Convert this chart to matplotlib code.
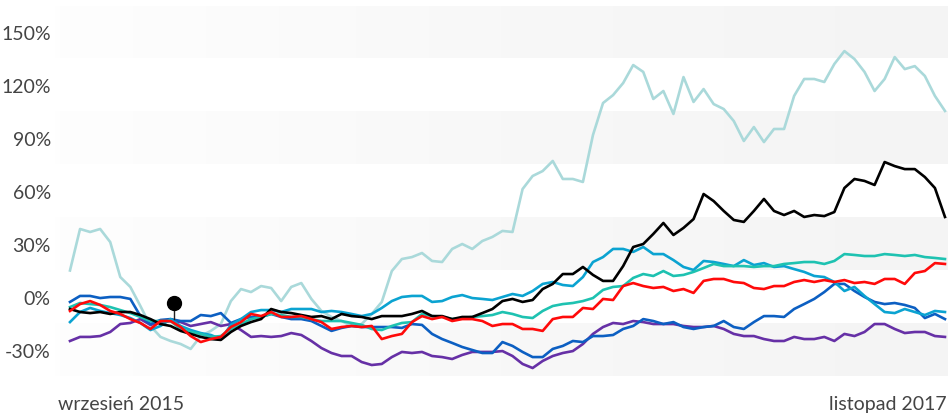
import numpy as np
import matplotlib
matplotlib.use('Agg')
import matplotlib.pyplot as plt
from matplotlib.colors import LinearSegmentedColormap

plt.rcParams['font.family'] = ['Lato', 'DejaVu Sans']

# Values in %, one value every ~10 px (Sep 2015 - Nov 2017)
light_teal = [15, 38.5, 36.8, 38.5, 31.1, 11.3, 5.7, -5.1, -16.4, -22.6,
              -24.9, -26.6, -29.4, -22.1, -19.2, -15.3, -2.3, 4.5, 2.8, 6.2,
              5.1, -2.3, 5.7, 7.9, -1.1, -7.9, -11.3, -13.6, -16.4, -15.3,
              -9.6, -2.8, 14.7, 21.5, 22.6, 24.9, 20.4, 19.8, 27.2, 30.0,
              27.2, 31.7, 34.0, 37.4, 36.8, 61.1, 68.5, 71.3, 77.0, 66.8,
              66.8, 65.1, 91.7, 109.8, 114.3, 121.1, 131.3, 127.4, 112.1, 116.6,
              103.6, 124.5, 110.4, 117.7, 109.2, 106.4, 99.6, 88.3, 96.2, 87.7,
              95.1, 95.1, 113.8, 123.4, 123.4, 121.7, 131.9, 139.2, 134.7, 127.4,
              116.6, 123.4, 135.8, 129.0, 130.7, 125.1, 113.8, 105.3]

black = [-6.8, -8.5, -9.1, -8.5, -9.6, -8.5, -8.5, -10.2, -12.5, -15.3,
         -16.4, -19.2, -20.9, -22.6, -23.8, -24.3, -19.8, -16.4, -14.2, -12.5,
         -6.8, -8.5, -9.1, -10.2, -11.3, -10.8, -12.5, -9.6, -10.8, -11.3,
         -12.5, -10.8, -10.8, -10.8, -9.6, -7.9, -10.8, -10.8, -12.5, -11.3,
         -11.3, -9.1, -6.8, -2.3, -1.1, -2.8, -1.7, 4.5, 7.4, 13.0,
         13.0, 17.0, 12.5, 9.1, 9.1, 17.5, 28.3, 30.0, 35.7, 41.9,
         35.1, 39.1, 44.1, 58.3, 54.3, 48.7, 43.6, 42.5, 48.7, 55.5,
         48.7, 46.4, 48.7, 45.3, 46.4, 45.8, 48.1, 61.7, 66.8, 65.7,
         63.4, 76.4, 74.1, 72.4, 72.4, 67.9, 61.7, 45.3]

teal = [-5.7, -3.4, -4.0, -4.5, -5.7, -7.4, -9.1, -11.3, -13.6, -13.6,
        -13.6, -18.1, -19.8, -20.9, -22.6, -22.1, -18.1, -15.3, -12.5, -11.3,
        -9.6, -10.2, -11.3, -11.3, -12.5, -13.6, -13.6, -13.6, -14.7, -15.8,
        -18.1, -18.7, -16.4, -14.7, -14.2, -9.6, -10.8, -11.3, -12.5, -11.9,
        -11.3, -10.8, -10.2, -8.5, -9.6, -11.3, -11.9, -7.9, -5.1, -4.0,
        -3.4, -2.3, -0.6, 4.0, 5.7, 6.2, 10.8, 13.0, 11.9, 14.7,
        11.9, 12.5, 14.2, 16.4, 18.7, 17.5, 17.5, 17.5, 17.0, 17.5,
        17.5, 18.7, 19.2, 19.8, 19.8, 18.7, 20.4, 24.3, 23.8, 23.2,
        23.2, 24.3, 23.8, 23.2, 23.8, 22.6, 22.1, 21.5]

cyan = [-14.2, -8.5, -6.2, -7.9, -9.1, -10.2, -11.9, -14.7, -18.7, -16.4,
        -12.5, -16.4, -18.7, -20.4, -21.5, -23.8, -15.8, -12.5, -8.5, -7.4,
        -7.4, -8.5, -6.8, -6.8, -6.8, -8.5, -7.9, -8.5, -9.6, -10.8,
        -9.6, -6.2, -2.3, 0, 0.6, 0.6, -2.8, -2.3, 0, 1.1,
        -0.6, -1.1, -1.7, 0, 1.7, 0.6, 3.4, 7.4, 8.5, 6.8,
        6.2, 11.3, 19.8, 22.6, 27.2, 27.2, 25.5, 28.3, 24.3, 24.3,
        20.9, 17.0, 15.3, 20.4, 19.8, 18.7, 17.5, 20.9, 18.1, 19.2,
        17.0, 17.5, 15.8, 14.2, 11.9, 11.3, 8.5, 3.4, 5.7, 0.6,
        -4.0, -8.5, -9.1, -6.8, -8.5, -10.2, -7.9, -8.5]

red = [-7.9, -4.0, -2.3, -4.5, -7.9, -9.6, -12.5, -14.7, -18.1, -13.6,
       -13.6, -17.0, -22.1, -25.5, -23.8, -22.6, -17.0, -14.2, -9.6, -10.8,
       -8.5, -11.3, -11.3, -10.8, -12.5, -14.2, -18.1, -17.0, -16.4, -17.0,
       -16.4, -23.8, -22.1, -20.9, -14.2, -10.8, -12.5, -11.3, -13.6, -12.5,
       -12.5, -13.6, -16.4, -15.3, -15.3, -18.1, -18.1, -19.2, -12.5, -11.3,
       -11.3, -6.2, -6.8, -1.1, -1.7, 6.2, 7.9, 6.2, 5.1, 5.7,
       3.4, 4.5, 2.3, 9.1, 10.2, 10.2, 8.5, 7.9, 5.1, 4.5,
       6.2, 6.2, 8.5, 9.6, 8.5, 9.6, 8.5, 9.6, 7.9, 8.5,
       7.4, 10.2, 10.2, 7.4, 13.6, 14.7, 19.2, 18.7]

dark_blue = [-2.8, 0.6, 0.6, -0.6, 0, 0, -1.1, -10.8, -15.3, -13.0,
             -12.5, -13.6, -13.6, -10.2, -10.8, -9.1, -14.7, -12.5, -11.3, -11.3,
             -9.6, -11.3, -12.5, -12.5, -13.6, -16.4, -19.2, -17.5, -16.4, -17.0,
             -17.0, -17.0, -17.0, -17.5, -15.3, -15.8, -20.9, -23.8, -26.0, -28.3,
             -30.0, -31.7, -31.7, -25.5, -27.7, -31.1, -34.0, -34.0, -29.4, -27.7,
             -24.9, -25.5, -22.1, -22.1, -21.5, -18.1, -16.4, -12.5, -13.6, -15.3,
             -14.2, -17.0, -18.1, -17.0, -16.4, -13.6, -17.0, -18.1, -14.2, -10.8,
             -10.8, -11.3, -6.8, -4.0, -1.1, 2.8, 7.4, 7.4, 3.4, 0,
             -2.8, -4.0, -3.4, -4.5, -6.2, -11.9, -9.6, -12.5]

purple = [-24.9, -22.6, -22.6, -22.1, -19.8, -15.3, -14.7, -12.5, -15.8, -14.2,
          -13.6, -14.2, -16.4, -15.3, -14.2, -16.4, -15.3, -18.7, -22.6, -22.1,
          -22.6, -22.1, -20.4, -21.5, -24.9, -28.9, -31.7, -33.4, -33.4, -36.8,
          -38.5, -37.9, -34.0, -31.1, -31.7, -31.1, -33.4, -34.0, -35.1, -32.8,
          -31.1, -31.1, -31.1, -30.6, -33.4, -37.9, -40.2, -36.2, -33.4, -31.7,
          -30.6, -26.6, -20.9, -17.0, -14.7, -15.3, -13.6, -14.2, -15.3, -15.3,
          -15.3, -16.4, -17.0, -17.0, -16.4, -18.1, -20.9, -22.1, -22.1, -23.8,
          -24.9, -24.9, -22.6, -23.8, -23.8, -22.6, -24.9, -20.9, -22.1, -19.8,
          -15.3, -15.3, -18.1, -20.4, -19.8, -19.8, -22.1, -22.6]

series = [
    (light_teal, '#aad9da'),
    (purple, '#6630a6'),
    (dark_blue, '#0c5fc2'),
    (cyan, '#0ba3d1'),
    (teal, '#1ec2b1'),
    (black, '#000000'),
    (red, '#ff0a0a'),
]

y_ticks = [-30, 0, 30, 60, 90, 120, 150]
y_labels = ['-30%', '0%', '30%', '60%', '90%', '120%', '150%']
shaded = [-30, 30, 90, 150]
start_label = 'wrzesień 2015'
end_label = 'listopad 2017'

# marker on one day, dot value and the value of the lines below it
marker_idx = 10.3
marker_top = -3.4
marker_bottom = -12.5

fig = plt.figure(figsize=(9.5, 4.14), dpi=100)
ax = fig.add_axes([55 / 950, 36.5 / 414, 893 / 950, 371 / 414])

n = len(black)
x = np.arange(n)
x0, x1 = -1.49, n - 1 + 0.3
ax.set_xlim(x0, x1)
ax.set_ylim(-45, 165)

# faint alternating bands, slightly darker to the right
band_cmap = LinearSegmentedColormap.from_list('band', ['#fefefe', '#f8f8f8', '#f4f4f4'])
grad = np.linspace(0, 1, 256).reshape(1, -1)
for c in shaded:
    ax.imshow(grad, cmap=band_cmap, vmin=0, vmax=1, aspect='auto',
              extent=(x0, x1, c - 15, c + 15), zorder=0, interpolation='bilinear')

for vals, col in series:
    ax.plot(x, vals, color=col, lw=1.9, solid_joinstyle='round', zorder=2)

ax.plot([marker_idx, marker_idx], [marker_bottom, marker_top], color='#222222', lw=1, zorder=3)
ax.plot([marker_idx], [marker_top], 'o', color='#000000', ms=10, zorder=4)

ax.set_yticks(y_ticks)
ax.set_yticklabels(y_labels, fontsize=14, color='#444444')
ax.tick_params(axis='y', length=0, pad=3)
ax.set_xticks([])
for s in ax.spines.values():
    s.set_visible(False)

fig.text(58 / 950, 1 - 405 / 414, start_label, fontsize=14, color='#444444',
         ha='left', va='center')
fig.text(947 / 950, 1 - 405 / 414, end_label, fontsize=14, color='#444444',
         ha='right', va='center')

fig.savefig('out.png', dpi=100, facecolor='white')
